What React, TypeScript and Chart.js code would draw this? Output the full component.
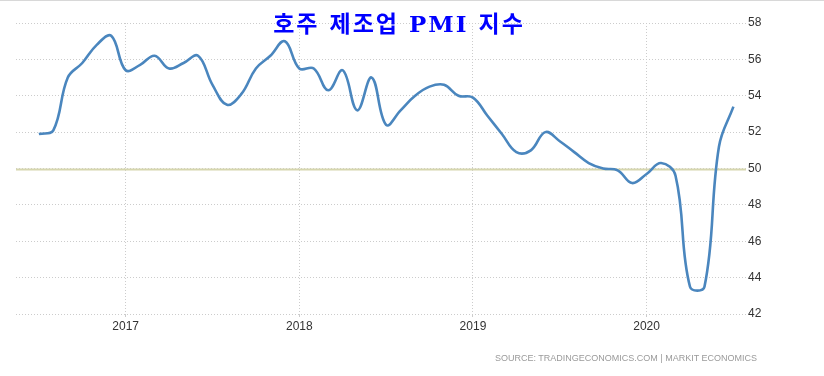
import React, { useEffect, useRef } from 'react';
import { Chart, registerables } from 'chart.js';

Chart.register(...registerables);

const months = [
  '2016-07', '2016-08', '2016-09', '2016-10', '2016-11', '2016-12',
  '2017-01', '2017-02', '2017-03', '2017-04', '2017-05', '2017-06',
  '2017-07', '2017-08', '2017-09', '2017-10', '2017-11', '2017-12',
  '2018-01', '2018-02', '2018-03', '2018-04', '2018-05', '2018-06',
  '2018-07', '2018-08', '2018-09', '2018-10', '2018-11', '2018-12',
  '2019-01', '2019-02', '2019-03', '2019-04', '2019-05', '2019-06',
  '2019-07', '2019-08', '2019-09', '2019-10', '2019-11', '2019-12',
  '2020-01', '2020-02', '2020-03', '2020-04', '2020-05', '2020-06',
  '2020-07',
];

const pmiValues = [
  51.9, 52.1, 55.0, 55.8, 56.8, 57.3,
  55.4, 55.7, 56.2, 55.5, 55.8, 56.2,
  54.6, 53.5, 54.1, 55.5, 56.2, 57.0,
  55.5, 55.5, 54.3, 55.4, 53.2, 55.0,
  52.4, 53.2, 54.0, 54.5, 54.6, 54.0,
  53.9, 52.9, 51.9, 50.9, 51.0, 52.0,
  51.5, 50.9, 50.3, 50.0, 49.9, 49.2,
  49.7, 50.3, 49.6, 43.5, 43.5, 51.2,
  53.4,
];

const yMin = 42;
const yMax = 58;
const yStep = 2;
const referenceLevel = 50;
const titleText = '호주 제조업 PMI 지수';
const sourceText = 'SOURCE: TRADINGECONOMICS.COM | MARKIT ECONOMICS';

export default function App() {
  const canvasRef = useRef<HTMLCanvasElement>(null);

  useEffect(() => {
    if (!canvasRef.current) return;
    const refLine = {
      id: 'refLine',
      beforeDatasetsDraw(chart: any) {
        const { ctx, chartArea, scales } = chart;
        const y = Math.round(scales.y.getPixelForValue(referenceLevel)) + 0.5;
        ctx.save();
        ctx.strokeStyle = '#d6d6ae';
        ctx.lineWidth = 2;
        ctx.beginPath();
        ctx.moveTo(chartArea.left, y);
        ctx.lineTo(chartArea.right, y);
        ctx.stroke();
        ctx.restore();
      },
    };
    const chart = new Chart(canvasRef.current, {
      type: 'line',
      data: {
        datasets: [
          {
            data: pmiValues.map((v, i) => ({ x: i, y: v })),
            borderColor: '#4a86be',
            borderWidth: 2.6,
            pointRadius: 0,
            tension: 0.4,
            fill: false,
          },
        ],
      },
      options: {
        animation: false,
        responsive: false,
        layout: { padding: { left: 16, top: 23, right: 0, bottom: 0 } },
        plugins: {
          legend: { display: false },
          tooltip: { enabled: false },
        },
        scales: {
          x: {
            type: 'linear',
            min: -1.58,
            max: 48.87,
            afterBuildTicks: (s: any) => {
              s.ticks = months
                .map((m, i) => (m.endsWith('-01') ? { value: i } : null))
                .filter(Boolean);
            },
            afterFit: (s: any) => {
              s.height = 62;
            },
            ticks: {
              color: '#333',
              font: { family: 'Liberation Sans', size: 12 },
              padding: 2,
              maxRotation: 0,
              autoSkip: false,
              callback: (v: any) => months[v as number].slice(0, 4),
            },
            grid: { color: '#cccccc', tickLength: 3, drawTicks: true },
            border: { display: false, dash: [1, 2] },
          },
          y: {
            position: 'right',
            min: yMin,
            max: yMax,
            afterFit: (s: any) => {
              s.width = 78;
            },
            ticks: {
              stepSize: yStep,
              color: '#333',
              font: { family: 'Liberation Sans', size: 12 },
              padding: 2,
            },
            grid: { color: '#cccccc', drawTicks: false },
            border: { display: false, dash: [1, 2] },
          },
        },
      },
      plugins: [refLine],
    });
    return () => chart.destroy();
  }, []);

  return (
    <div
      style={{
        position: 'fixed',
        left: 0,
        top: 0,
        width: 824,
        height: 376,
        background: '#fff',
        boxSizing: 'border-box',
      }}
    >
      <canvas ref={canvasRef} width={824} height={376} style={{ position: 'absolute', left: 0, top: 0 }} />
      <div
        style={{
          position: 'absolute',
          left: 0,
          top: 0,
          width: 824,
          height: 1,
          background: '#d8d8d8',
        }}
      />
      <div
        style={{
          position: 'absolute',
          left: 399,
          top: 12,
          transform: 'translateX(-50%)',
          whiteSpace: 'nowrap',
          fontFamily: '"DejaVu Serif", "Noto Sans CJK KR", serif',
          fontWeight: 700,
          fontSize: 23,
          lineHeight: '24px',
          letterSpacing: '2px',
          color: '#0000ff',
        }}
      >
        {titleText}
      </div>
      <div
        style={{
          position: 'absolute',
          left: 495,
          top: 354,
          whiteSpace: 'nowrap',
          fontFamily: '"Liberation Sans", sans-serif',
          fontSize: 9,
          lineHeight: '9px',
          letterSpacing: '0px',
          color: '#9a9a9a',
        }}
      >
        {sourceText}
      </div>
    </div>
  );
}
